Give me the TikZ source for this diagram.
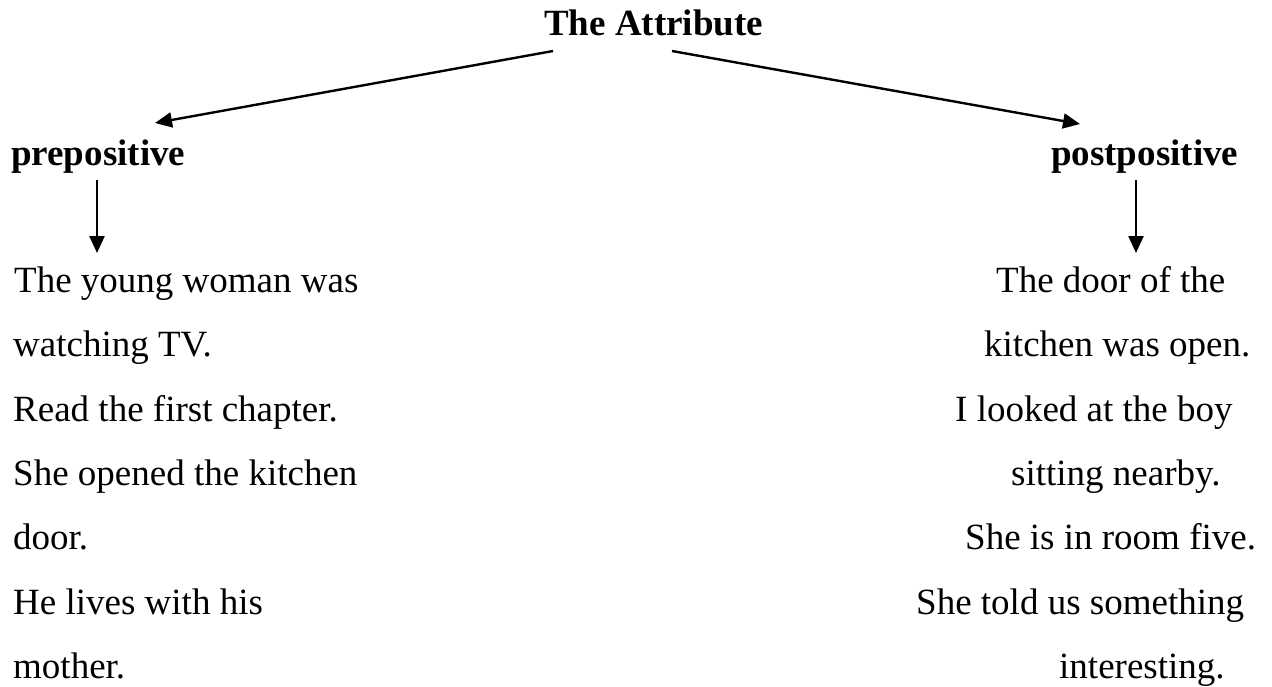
\documentclass[tikz,border=0pt]{standalone}
\usepackage{fontspec}
\setmainfont{Liberation Serif}
\usetikzlibrary{arrows.meta}
\begin{document}
\begin{tikzpicture}[x=1pt,y=-1pt,
  txt/.style={anchor=base west,inner sep=0pt,font=\fontsize{37}{44}\selectfont},
  head/.style={anchor=base west,inner sep=0pt,font=\fontsize{37}{44}\selectfont\bfseries},
  arr/.style={line width=2.4pt,-{Triangle[length=17pt,width=15pt]}}]
\useasboundingbox (0,0) rectangle (1272,686);
% headings
\node[head] (title) at (544,35) {The Attribute};
\node[head] (pre)   at (11,165) {prepositive};
\node[head] (post)  at (1051,165) {postpositive};
% arrow ends
\coordinate (tl)  at (553,51);
\coordinate (tr)  at (672,51);
\coordinate (preIn)  at (155,123);
\coordinate (postIn) at (1080,124);
\coordinate (preOut)  at (97,180);
\coordinate (preEx)   at (97,253);
\coordinate (postOut) at (1136,180);
\coordinate (postEx)  at (1136,253);
\draw[arr] (tl) -- (preIn);
\draw[arr] (tr) -- (postIn);
\draw[arr] (preOut) -- (preEx);
\draw[arr] (postOut) -- (postEx);
% prepositive examples
\node[txt] (l1) at (14,292) {The young woman was};
\node[txt] (l2) at (13,356.5) {watching TV.};
\node[txt] (l3) at (13,421) {Read the first chapter.};
\node[txt] (l4) at (13,485) {She opened the kitchen};
\node[txt] (l5) at (13,549.5) {door.};
\node[txt] (l6) at (13,614) {He lives with his};
\node[txt] (l7) at (13,678) {mother.};
% postpositive examples
\node[txt] (r1) at (996,292) {The door of the};
\node[txt] (r2) at (984,356.5) {kitchen was open.};
\node[txt] (r3) at (955,421) {I looked at the boy};
\node[txt] (r4) at (1011,485) {sitting nearby.};
\node[txt] (r5) at (965,549.5) {She is in room five.};
\node[txt] (r6) at (916,614) {She told us something};
\node[txt] (r7) at (1059,678) {interesting.};
\end{tikzpicture}
\end{document}
